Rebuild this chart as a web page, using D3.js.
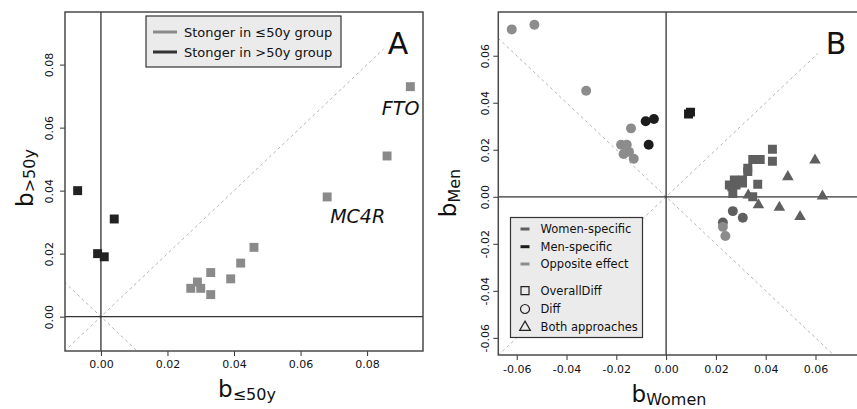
<!DOCTYPE html>
<html>
<head>
<meta charset="utf-8">
<script src="https://cdn.jsdelivr.net/npm/d3@7"></script>
<style>
  body { margin: 0; background: #fff; }
  svg { display: block; }
  text { font-family: "DejaVu Sans", Verdana, sans-serif; fill: #111; }
</style>
</head>
<body>
<div id="canvas"></div>
<script>
// ---- Panel A: effect size by age group ----
// stronger in <=50y group (gray)
var youngStrongX = [0.027, 0.029, 0.030, 0.033, 0.033, 0.039, 0.042, 0.046, 0.068, 0.086, 0.093];
var youngStrongY = [0.009, 0.011, 0.009, 0.014, 0.007, 0.012, 0.017, 0.022, 0.038, 0.051, 0.073];
// stronger in >50y group (dark)
var oldStrongX = [-0.007, 0.004, -0.001, 0.001];
var oldStrongY = [0.040, 0.031, 0.020, 0.019];
var geneNames = ["MC4R", "FTO"];
var geneIndex = [8, 10];
var ticksA = [0, 0.02, 0.04, 0.06, 0.08];
var legendA = ["Stonger in \u226450y group", "Stonger in >50y group"];

// ---- Panel B: effect size by sex ----
var womenB = [0.0348, 0.0378, 0.0427, 0.0427, 0.0328, 0.0328, 0.0307, 0.0307, 0.0274, 0.0254, 0.0264, 0.0281, 0.0268, 0.0368, 0.0348,
              0.0090, 0.0098,
              -0.0620, -0.0529, -0.0321, -0.0141, -0.0181, -0.0158, -0.0171, -0.0149, -0.0130,
              -0.0082, -0.0049, -0.0070,
              0.0268, 0.0308, 0.0228, 0.0228, 0.0238,
              0.0330, 0.0489, 0.0598, 0.0628, 0.0371, 0.0455, 0.0538];
var menB =   [0.0159, 0.0159, 0.0202, 0.0151, 0.0121, 0.0107, 0.0071, 0.0058, 0.0071, 0.0050, 0.0043, 0.0050, 0.0014, 0.0053, 0.0000,
              0.0352, 0.0360,
              0.0712, 0.0732, 0.0451, 0.0291, 0.0221, 0.0221, 0.0182, 0.0191, 0.0162,
              0.0321, 0.0331, 0.0221,
              -0.0061, -0.0089, -0.0109, -0.0128, -0.0167,
              0.0007, 0.0085, 0.0156, 0.0003, -0.0035, -0.0045, -0.0085];
var effectB = ["women","women","women","women","women","women","women","women","women","women","women","women","women","women","women",
               "men","men",
               "opposite","opposite","opposite","opposite","opposite","opposite","opposite","opposite","opposite",
               "men","men","men",
               "women","women","women","opposite","opposite",
               "women","women","women","women","women","women","women"];
var approachB = ["OverallDiff","OverallDiff","OverallDiff","OverallDiff","OverallDiff","OverallDiff","OverallDiff","OverallDiff","OverallDiff","OverallDiff","OverallDiff","OverallDiff","OverallDiff","OverallDiff","OverallDiff",
                 "OverallDiff","OverallDiff",
                 "Diff","Diff","Diff","Diff","Diff","Diff","Diff","Diff","Diff",
                 "Diff","Diff","Diff",
                 "Diff","Diff","Diff","Diff","Diff",
                 "Both","Both","Both","Both","Both","Both","Both"];
var ticksB = [-0.06, -0.04, -0.02, 0, 0.02, 0.04, 0.06];
var effectNames = ["Women-specific", "Men-specific", "Opposite effect"];
var approachNames = ["OverallDiff", "Diff", "Both approaches"];

var effectColor = d3.scaleOrdinal()
  .domain(["women", "men", "opposite"])
  .range(["#5f5f5f", "#1c1c1c", "#8c8c8c"]);
var approachShape = d3.scaleOrdinal()
  .domain(["OverallDiff", "Diff", "Both"])
  .range([d3.symbolSquare, d3.symbolCircle, d3.symbolTriangle]);
var approachSize = { OverallDiff: 80, Diff: 78, Both: 58 };

var svg = d3.select('#canvas')
  .append('svg')
    .attr('width', 857)
    .attr('height', 409);

var fmt = function(d) { return d.toFixed(2); };

// draws clip, axes for a panel, returns clipped group
function panel(id, x, y, ticks, xPad, yOff) {
  var x0 = x.range()[0], x1 = x.range()[1], y0 = y.range()[1], y1 = y.range()[0];
  svg.append("clipPath").attr("id", id)
    .append("rect").attr("x", x0).attr("y", y0).attr("width", x1 - x0).attr("height", y1 - y0);

  var gx = svg.append("g")
    .attr("transform", `translate(0,${y1})`)
    .call(d3.axisBottom(x).tickValues(ticks).tickFormat(fmt).tickSize(5).tickPadding(xPad));
  var gy = svg.append("g")
    .attr("transform", `translate(${x0},0)`)
    .call(d3.axisLeft(y).tickValues(ticks).tickFormat(fmt).tickSize(5));
  [gx, gy].forEach(function(g) {
    g.select(".domain").remove();
    g.selectAll("line").attr("stroke", "#333");
    g.selectAll("text").attr("font-family", "'Liberation Sans', Arial, sans-serif")
      .attr("font-size", 11).attr("fill", "#1a1a1a");
  });
  gy.selectAll("text")
    .attr("transform", "rotate(-90)")
    .attr("x", 0).attr("y", -yOff).attr("dy", 0)
    .attr("text-anchor", "middle");

  return svg.append("g").attr("clip-path", `url(#${id})`);
}

function dashed(plot, x, y, a, b, sign) {
  plot.append("line")
    .attr("x1", x(a)).attr("y1", y(sign * a))
    .attr("x2", x(b)).attr("y2", y(sign * b))
    .attr("stroke", "#b5b5b5").attr("stroke-width", 1).attr("stroke-dasharray", "3,3");
}

function zeroLines(plot, x, y) {
  plot.append("line").attr("x1", x(0)).attr("x2", x(0))
    .attr("y1", y.range()[0]).attr("y2", y.range()[1])
    .attr("stroke", "#333").attr("stroke-width", 1.3);
  plot.append("line").attr("y1", y(0)).attr("y2", y(0))
    .attr("x1", x.range()[0]).attr("x2", x.range()[1])
    .attr("stroke", "#333").attr("stroke-width", 1.3);
}

function frame(x, y) {
  svg.append("rect")
    .attr("x", x.range()[0]).attr("y", y.range()[1])
    .attr("width", x.range()[1] - x.range()[0])
    .attr("height", y.range()[0] - y.range()[1])
    .attr("fill", "none").attr("stroke", "#4a4a4a").attr("stroke-width", 1.5);
}

// ================= Panel A =================
var xA = d3.scaleLinear().domain([-0.0108, 0.0968]).range([65, 423]);
var yA = d3.scaleLinear().domain([-0.0109, 0.0967]).range([351, 12]);
var plotA = panel("clipA", xA, yA, ticksA, 4, 12);

dashed(plotA, xA, yA, -0.011, 0.085, 1);
dashed(plotA, xA, yA, -0.011, 0.011, -1);
zeroLines(plotA, xA, yA);

var sq = d3.symbol().type(d3.symbolSquare).size(80);
plotA.selectAll(".young")
  .data(d3.range(youngStrongX.length))
  .enter().append("path")
    .attr("d", sq)
    .attr("transform", function(i) { return `translate(${xA(youngStrongX[i])},${yA(youngStrongY[i])})`; })
    .attr("fill", "#8a8a8a");
plotA.selectAll(".old")
  .data(d3.range(oldStrongX.length))
  .enter().append("path")
    .attr("d", sq)
    .attr("transform", function(i) { return `translate(${xA(oldStrongX[i])},${yA(oldStrongY[i])})`; })
    .attr("fill", "#222");

// gene labels
svg.append("text")
  .text(geneNames[1])
  .attr("x", xA(youngStrongX[geneIndex[1]]) + 9)
  .attr("y", yA(youngStrongY[geneIndex[1]]) + 28)
  .attr("text-anchor", "end")
  .attr("font-style", "italic").attr("font-size", 19);
svg.append("text")
  .text(geneNames[0])
  .attr("x", xA(youngStrongX[geneIndex[0]]) + 3)
  .attr("y", yA(youngStrongY[geneIndex[0]]) + 26)
  .attr("font-style", "italic").attr("font-size", 19);

frame(xA, yA);

// legend A
svg.append("rect").attr("x", 146).attr("y", 16).attr("width", 195).attr("height", 51)
  .attr("fill", "#ebebeb").attr("stroke", "#333").attr("stroke-width", 1.2);
legendA.forEach(function(t, i) {
  svg.append("line").attr("x1", 153).attr("x2", 177).attr("y1", 32 + i * 20).attr("y2", 32 + i * 20)
    .attr("stroke", i === 0 ? "#8a8a8a" : "#333").attr("stroke-width", 3);
  svg.append("text").text(t).attr("x", 184).attr("y", 32 + i * 20)
    .attr("dominant-baseline", "central").attr("font-size", 13);
});

svg.append("text").text("A").attr("x", 398).attr("y", 54)
  .attr("text-anchor", "middle").attr("font-size", 30);

// axis titles A
var tA = svg.append("text").attr("x", 247).attr("y", 397).attr("text-anchor", "middle");
tA.append("tspan").text("b").attr("font-size", 23);
tA.append("tspan").text("\u226450y").attr("font-size", 16).attr("dy", 3);
var tAy = svg.append("text").attr("transform", "translate(33,178) rotate(-90)").attr("text-anchor", "middle");
tAy.append("tspan").text("b").attr("font-size", 23);
tAy.append("tspan").text(">50y").attr("font-size", 16).attr("dy", 2);

// ================= Panel B =================
var xB = d3.scaleLinear().domain([-0.0674, 0.0786]).range([498.3, 861.8]);
var yB = d3.scaleLinear().domain([-0.0673, 0.0786]).range([355, 12]);
var plotB = panel("clipB", xB, yB, ticksB, 5, 9);

dashed(plotB, xB, yB, -0.0675, 0.061, 1);
dashed(plotB, xB, yB, -0.0675, 0.0675, -1);
zeroLines(plotB, xB, yB);

plotB.selectAll(".pt")
  .data(d3.range(womenB.length))
  .enter().append("path")
    .attr("d", function(i) { return d3.symbol().type(approachShape(approachB[i])).size(approachSize[approachB[i]])(); })
    .attr("transform", function(i) { return `translate(${xB(womenB[i])},${yB(menB[i])})`; })
    .attr("fill", function(i) { return effectColor(effectB[i]); });

frame(xB, yB);

// legend B
svg.append("rect").attr("x", 510.5).attr("y", 217.5).attr("width", 132).attr("height", 120)
  .attr("fill", "#ebebeb").attr("stroke", "#333").attr("stroke-width", 1.2);
var rowsB = [229, 246.7, 264];
effectNames.forEach(function(t, i) {
  svg.append("line").attr("x1", 520.5).attr("x2", 529.5).attr("y1", rowsB[i]).attr("y2", rowsB[i])
    .attr("stroke", effectColor.range()[i]).attr("stroke-width", 3);
  svg.append("text").text(t).attr("x", 540.5).attr("y", rowsB[i])
    .attr("dominant-baseline", "central").attr("font-size", 11.5);
});
var rowsB2 = [290.7, 309, 327.3];
approachNames.forEach(function(t, i) {
  var shape = approachShape.range()[i];
  svg.append("path")
    .attr("d", d3.symbol().type(shape).size(i === 2 ? 50 : 64)())
    .attr("transform", `translate(525,${rowsB2[i]})`)
    .attr("fill", "none").attr("stroke", "#222").attr("stroke-width", 1.2);
  svg.append("text").text(t).attr("x", 540.5).attr("y", rowsB2[i])
    .attr("dominant-baseline", "central").attr("font-size", 11.5);
});

svg.append("text").text("B").attr("x", 836).attr("y", 54)
  .attr("text-anchor", "middle").attr("font-size", 30);

// axis titles B
var tB = svg.append("text").attr("x", 669).attr("y", 402).attr("text-anchor", "middle");
tB.append("tspan").text("b").attr("font-size", 23);
tB.append("tspan").text("Women").attr("font-size", 16).attr("dy", 3);
var tBy = svg.append("text").attr("transform", "translate(456,193) rotate(-90)").attr("text-anchor", "middle");
tBy.append("tspan").text("b").attr("font-size", 23);
tBy.append("tspan").text("Men").attr("font-size", 16).attr("dy", 4);
</script>
</body>
</html>
